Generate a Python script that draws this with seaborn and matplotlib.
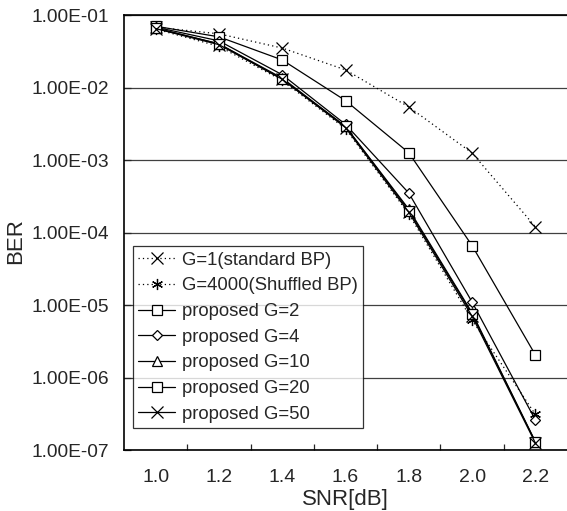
import numpy as np
import pandas as pd
import matplotlib
matplotlib.use("Agg")
import matplotlib.pyplot as plt
import seaborn as sns
from matplotlib.ticker import FixedLocator, FuncFormatter

snr = ["1.0", "1.2", "1.4", "1.6", "1.8", "2.0", "2.2"]
series_names = ["G=1(standard BP)", "G=4000(Shuffled BP)", "proposed G=2",
                "proposed G=4", "proposed G=10", "proposed G=20", "proposed G=50"]
g1 = [6.8e-2, 5.5e-2, 3.5e-2, 1.75e-2, 5.4e-3, 1.25e-3, 1.2e-4]
g4000 = [6.4e-2, 3.7e-2, 1.25e-2, 2.7e-3, 1.8e-4, 6.2e-6, 3.1e-7]
g2 = [7.0e-2, 5.0e-2, 2.4e-2, 6.6e-3, 1.26e-3, 6.6e-5, 2.05e-6]
g4 = [6.8e-2, 4.4e-2, 1.5e-2, 3.1e-3, 3.5e-4, 1.1e-5, 2.6e-7]
g10 = [6.6e-2, 4.0e-2, 1.35e-2, 2.9e-3, 2.1e-4, 7.8e-6, 1.3e-7]
g20 = [6.6e-2, 4.0e-2, 1.3e-2, 2.9e-3, 2.0e-4, 7.5e-6, 1.3e-7]
g50 = [6.5e-2, 3.9e-2, 1.3e-2, 2.8e-3, 1.9e-4, 7.0e-6, 1.25e-7]
all_values = [g1, g4000, g2, g4, g10, g20, g50]

marker_list = ["x", (6, 2, 0), "s", "D", "^", "s", "x"]
style_list = [(0, (1, 2.5)), (0, (1, 2.5)), "-", "-", "-", "-", "-"]
msize_list = [8, 8, 6.5, 5.5, 6.5, 6.5, 8]

sns.set_style("white")
plt.rcParams["font.family"] = ["Liberation Sans", "DejaVu Sans"]

fig = plt.figure(figsize=(5.67, 5.11), dpi=100)
ax = fig.add_axes([124 / 567, 1 - 450 / 511, 1 - 124 / 567, (450 - 15) / 511])

for name, vals, mk, ls, ms in zip(series_names, all_values, marker_list, style_list, msize_list):
    d = pd.DataFrame({"idx": np.arange(len(vals)), "BER": vals})
    sns.lineplot(data=d, x="idx", y="BER", ax=ax, color="black", linewidth=0.9,
                 marker=mk, markersize=ms, markerfacecolor="white",
                 markeredgecolor="black", markeredgewidth=0.9,
                 linestyle=ls, label=name)

ax.set_yscale("log")
ax.set_ylim(1e-7, 1e-1)
ax.set_xlim(-0.5, 6.5)

ax.yaxis.set_major_locator(FixedLocator([10.0 ** e for e in range(-7, 0)]))
ax.yaxis.set_minor_locator(FixedLocator([]))
ax.yaxis.set_major_formatter(FuncFormatter(lambda v, p: "%.2E" % v))
ax.grid(axis="y", which="major", color="#404040", linewidth=0.9)
ax.grid(axis="x", visible=False)

ax.set_xticks(range(len(snr)))
ax.set_xticklabels(snr)
ax.set_xticks([i + 0.5 for i in range(len(snr) - 1)], minor=True)
ax.tick_params(axis="x", which="major", length=0, pad=14, labelsize=14)
ax.tick_params(axis="x", which="minor", length=4, direction="in", width=0.9, bottom=True)
ax.tick_params(axis="y", which="major", length=5, direction="in", width=0.9,
               pad=10.5, labelsize=13.8, left=True)

for s in ["left", "bottom", "top"]:
    ax.spines[s].set_color("black")
    ax.spines[s].set_linewidth(1.2)
ax.spines["right"].set_visible(False)

ax.set_xlabel("SNR[dB]", fontsize=16)
ax.set_ylabel("BER", fontsize=16)
ax.xaxis.set_label_coords((345 - 124) / 443, (450 - 489) / 435)
ax.yaxis.set_label_coords((26 - 124) / 443, 0.48)

leg = ax.legend(loc="lower left", bbox_to_anchor=(0.02, 0.05), fontsize=13.3,
                frameon=True, fancybox=False, edgecolor="black",
                handlelength=2.0, handletextpad=0.35, labelspacing=0.47,
                borderpad=0.3, borderaxespad=0)
leg.get_frame().set_linewidth(0.9)

fig.savefig("out.png", dpi=100)
